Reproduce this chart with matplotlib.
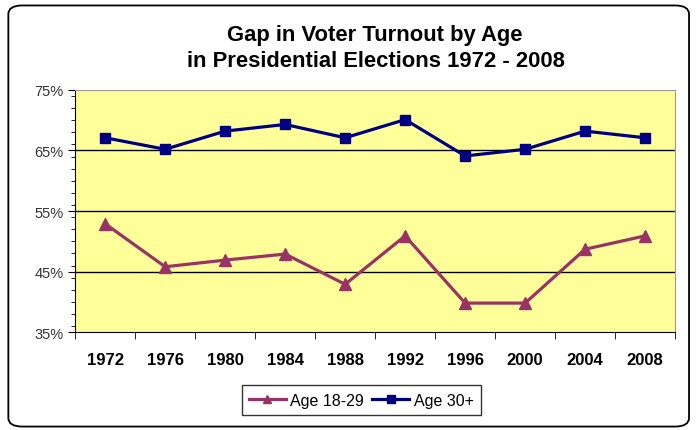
import matplotlib.pyplot as plt
import numpy as np
from matplotlib.patches import FancyBboxPatch
from matplotlib.ticker import MultipleLocator, FixedLocator

plt.rcParams['font.family'] = ['Liberation Sans', 'DejaVu Sans']

years = ['1972', '1976', '1980', '1984', '1988', '1992', '1996', '2000', '2004', '2008']
age_18_29 = [52.9, 45.8, 46.9, 47.9, 42.9, 50.9, 39.8, 39.8, 48.7, 50.9]
age_30_plus = [67.1, 65.2, 68.2, 69.3, 67.1, 70.1, 64.1, 65.2, 68.2, 67.1]
y_ticks = [35, 45, 55, 65, 75]

fig = plt.figure(figsize=(6.96, 4.31), dpi=100)
fig.patch.set_facecolor('white')

# rounded outer frame
frame = FancyBboxPatch((0.012, 0.008), 0.978, 0.977, boxstyle='round,pad=0,rounding_size=0.02',
                       transform=fig.transFigure, facecolor='none', edgecolor='black', linewidth=1.3)
fig.patches.append(frame)

ax = fig.add_axes([0.108, 0.227, 0.862, 0.562])
ax.set_facecolor('#FFFF99')

x = np.arange(len(years))
ax.plot(x, age_18_29, color='#993366', marker='^', markersize=8, linewidth=2.3, label='Age 18-29', zorder=3)
ax.plot(x, age_30_plus, color='#000080', marker='s', markersize=7, linewidth=2.3, label='Age 30+', zorder=3)

ax.set_xlim(-0.5, len(years) - 0.5)
ax.set_ylim(35, 75)
ax.set_yticks(y_ticks)
ax.set_yticklabels([f'{v}%' for v in y_ticks], fontsize=10.5, color='#333333')
ax.yaxis.set_minor_locator(MultipleLocator(2))
ax.set_xticks(x)
ax.set_xticklabels(years, fontsize=12, fontweight='bold')
ax.xaxis.set_minor_locator(FixedLocator(np.arange(-0.5, len(years), 1)))
ax.tick_params(axis='x', which='major', length=0, pad=14)
ax.tick_params(axis='x', which='minor', length=5, direction='out')
ax.tick_params(axis='y', which='major', length=5, direction='out')
ax.tick_params(axis='y', which='minor', length=3, direction='out')

for v in [45, 55, 65]:
    ax.axhline(v, color='black', linewidth=1, zorder=1)

for side in ['top', 'right']:
    ax.spines[side].set_color('#999999')
ax.spines['left'].set_color('black')
ax.spines['bottom'].set_color('black')

fig.text(0.539, 0.918, 'Gap in Voter Turnout by Age', ha='center', va='center', fontsize=15.8, fontweight='bold')
fig.text(0.54, 0.858, 'in Presidential Elections 1972 - 2008', ha='center', va='center', fontsize=15.8, fontweight='bold')

leg = fig.legend(loc='center', bbox_to_anchor=(0.519, 0.0695), ncol=2, fontsize=11.5, frameon=True,
                 fancybox=False, edgecolor='black', handlelength=2.3, handletextpad=0.3,
                 columnspacing=0.5, borderpad=0.45, markerscale=0.8)
leg.get_frame().set_linewidth(1)

fig.savefig('out.png', dpi=100)
